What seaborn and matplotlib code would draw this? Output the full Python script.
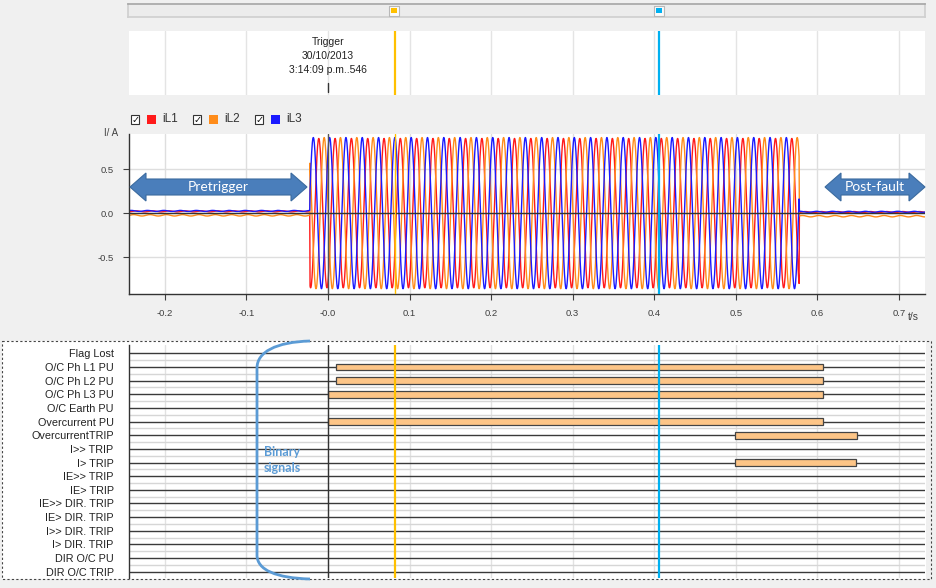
import numpy as np
import pandas as pd
import matplotlib
matplotlib.use("Agg")
import matplotlib.pyplot as plt
import matplotlib.transforms as mtransforms
from matplotlib.patches import Rectangle, Polygon, PathPatch
from matplotlib.path import Path
import seaborn as sns

# --- values ---
phase_names = ["iL1", "iL2", "iL3"]
fault_amp = [0.85, 0.86, 0.86]              # A, crest during the fault
first_peak = [-0.0113, -0.0047, -0.0180]    # s, first crest after inception
pre_level = [0.020, -0.025, 0.025]          # A, pre-fault level
post_level = [0.012, -0.035, 0.015]         # A, post-fault level
ripple_amp = [0.006, 0.008, 0.006]          # A, small ripple outside the fault
fault_on = -0.022
fault_off = 0.578
freq = 50.0

x_ticks = [-0.2, -0.1, 0.0, 0.1, 0.2, 0.3, 0.4, 0.5, 0.6, 0.7]
x_tick_labels = ["-0.2", "-0.1", "-0.0", "0.1", "0.2", "0.3", "0.4", "0.5", "0.6", "0.7"]
y_ticks = [-0.5, 0.0, 0.5]
y_tick_labels = ["-0.5", "0.0", "0.5"]

cursor_1 = 0.082
cursor_2 = 0.406

signal_names = ["Flag Lost", "O/C Ph L1 PU", "O/C Ph L2 PU", "O/C Ph L3 PU",
                "O/C Earth PU", "Overcurrent PU", "OvercurrentTRIP", "I>> TRIP",
                "I> TRIP", "IE>> TRIP", "IE> TRIP", "IE>> DIR. TRIP", "IE> DIR. TRIP",
                "I>> DIR. TRIP", "I> DIR. TRIP", "DIR O/C PU", "DIR O/C TRIP"]
event_signal = ["O/C Ph L1 PU", "O/C Ph L2 PU", "O/C Ph L3 PU", "Overcurrent PU",
                "OvercurrentTRIP", "I> TRIP"]
event_start = [0.010, 0.010, 0.000, 0.000, 0.499, 0.499]
event_end = [0.607, 0.607, 0.607, 0.607, 0.649, 0.648]

trigger_text = "Trigger\n30/10/2013\n3:14:09 p.m..546"

# --- build the waveform table ---
t = np.arange(-0.244, 0.7325, 0.0004)
rows = []
for k, name in enumerate(phase_names):
    fault = fault_amp[k] * np.cos(2 * np.pi * freq * (t - first_peak[k]))
    ripple = ripple_amp[k] * np.sin(2 * np.pi * freq * t + k)
    i = np.where(t < fault_on, pre_level[k] + ripple,
                 np.where(t > fault_off, post_level[k] + ripple, fault))
    rows.append(pd.DataFrame({"t": t, "i": i, "phase": name}))
waves = pd.concat(rows, ignore_index=True)

# --- figure ---
sns.set_theme(style="white")
plt.rcParams["font.family"] = ["Liberation Sans", "DejaVu Sans"]

W, H = 936, 588
fig = plt.figure(figsize=(W / 100, H / 100), dpi=100, facecolor="#f0f0f0")
px = mtransforms.Affine2D().scale(1 / W, -1 / H).translate(0, 1) + fig.transFigure


def px_rect(x0, y0, x1, y1):
    return [x0 / W, 1 - y1 / H, (x1 - x0) / W, (y1 - y0) / H]


xlim = (-0.244, 0.732)
colors = {"iL1": "#ff1a1a", "iL2": "#ff8c1a", "iL3": "#1a1aff"}
yellow = "#ffc000"
cyan = "#00b0f0"
tick_col = "#404040"

# binary panel frame (behind the axes)
fig.patches.append(Rectangle((2, 341), 924, 238, transform=px, facecolor="white",
                             edgecolor="none", zorder=-2))
fig.patches.append(Rectangle((2, 341), 929, 238, transform=px, facecolor="none",
                             edgecolor="#444444", lw=0.8, ls=(0, (2, 2)), zorder=-1))

# scroll bar
ax_s = fig.add_axes(px_rect(128, 4, 925, 17))
ax_s.set_facecolor("#ececec")
ax_s.set_xlim(xlim)
ax_s.set_ylim(0, 1)
ax_s.set_xticks([])
ax_s.set_yticks([])
for side, sp in ax_s.spines.items():
    sp.set_color("#a8a8a8" if side == "top" else "#d0d0d0")
ax_s.scatter([cursor_1, cursor_2], [0.5, 0.5], marker="s", s=60, color="#fafafa",
             edgecolor="#b8b8b8", lw=0.8, zorder=3)
ax_s.scatter([cursor_1, cursor_2], [0.5, 0.5], marker="s", s=16, color=[yellow, cyan],
             zorder=4, lw=0)

# timeline panel
ax_t = fig.add_axes(px_rect(129, 31, 925, 95))
ax_t.set_facecolor("white")
ax_t.set_xlim(xlim)
ax_t.set_ylim(0, 1)
ax_t.set_xticks([])
ax_t.set_yticks([])
for sp in ax_t.spines.values():
    sp.set_visible(False)
for x in x_ticks:
    ax_t.axvline(x, color="#e4e4e4", lw=1)
ax_t.axvline(cursor_1, color=yellow, lw=1.6)
ax_t.axvline(cursor_2, color=cyan, lw=1.6)
ax_t.plot([0, 0], [0.04, 0.19], color="#333333", lw=1)
ax_t.text(0, 0.9, trigger_text, ha="center", va="top", fontsize=7.5,
          color="#222222", linespacing=1.45)

# legend row
for k, name in enumerate(phase_names):
    x0 = 131 + 62 * k
    fig.patches.append(Rectangle((x0, 115), 8, 9, transform=px, facecolor="white",
                                 edgecolor="#333333", lw=0.8))
    fig.text(x0 + 4.5, 119.5, "\u2713", transform=px, ha="center", va="center",
             fontsize=7, family="DejaVu Sans", fontweight="bold", color="#111111")
    fig.patches.append(Rectangle((x0 + 16, 115), 9, 9, transform=px,
                                 facecolor=colors[name], edgecolor="none"))
    fig.text(x0 + 31, 119.5, name, transform=px, ha="left", va="center",
             fontsize=8.5, color="#333333")

# waveform axes
ax = fig.add_axes(px_rect(129, 134, 925, 294))
ax.set_facecolor("white")
sns.lineplot(data=waves, x="t", y="i", hue="phase", palette=colors, estimator=None,
             sort=False, lw=1.0, legend=False, ax=ax)
ax.set_xlim(xlim)
ax.set_ylim(-0.92, 0.9)
ax.set_xticks(x_ticks)
ax.set_xticklabels(x_tick_labels)
ax.set_yticks(y_ticks)
ax.set_yticklabels(y_tick_labels)
ax.set_xlabel("")
ax.set_ylabel("")
ax.grid(True, color="#dedede", lw=1)
ax.set_axisbelow(True)
ax.tick_params(axis="both", labelsize=6.8, colors=tick_col, length=4, width=0.8,
               direction="out", pad=7, left=True, bottom=True)
for side in ["top", "right"]:
    ax.spines[side].set_visible(False)
for side in ["left", "bottom"]:
    ax.spines[side].set_color("#333333")
    ax.spines[side].set_linewidth(1)
ax.axhline(0, color="#333333", lw=1, zorder=4)
ax.axvline(0, color="#555555", lw=1, zorder=4)
ax.axvline(cursor_1, color=yellow, lw=1, zorder=5)
ax.axvline(cursor_2, color=cyan, lw=1.6, zorder=5)
fig.text(111, 133, "I/ A", transform=px, ha="center", va="center", fontsize=7,
         color=tick_col)
fig.text(913, 317, "t/s", transform=px, ha="center", va="center", fontsize=7.5,
         color=tick_col)


# annotation arrows
def fat_arrow(x0, x1, yc, label):
    hl, bh, hh = 16, 8, 14
    pts = [(x0, yc), (x0 + hl, yc - hh), (x0 + hl, yc - bh), (x1 - hl, yc - bh),
           (x1 - hl, yc - hh), (x1, yc), (x1 - hl, yc + hh), (x1 - hl, yc + bh),
           (x0 + hl, yc + bh), (x0 + hl, yc + hh)]
    fig.patches.append(Polygon(pts, closed=True, transform=px, facecolor="#4a7ebb",
                               edgecolor="#3b6b9f", lw=0.8, zorder=6))
    fig.text((x0 + x1) / 2, yc, label, transform=px, ha="center", va="center",
             fontsize=10, family="Lato", color="white", zorder=7)


fat_arrow(130, 307, 187, "Pretrigger")
fat_arrow(825, 925, 187, "Post-fault")

# binary signals axes
ax_b = fig.add_axes(px_rect(129, 345, 925, 578))
ax_b.set_facecolor("white")
n = len(signal_names)
ax_b.set_xlim(xlim)
ax_b.set_ylim(n - 1 + 0.46, -0.61)
ax_b.set_yticks(range(n))
ax_b.set_yticklabels(signal_names)
ax_b.set_xticks([])
ax_b.tick_params(axis="y", length=0, labelsize=7.8, pad=11, colors="#222222")
for side in ["top", "right", "bottom"]:
    ax_b.spines[side].set_visible(False)
ax_b.spines["left"].set_color("#333333")
ax_b.spines["left"].set_linewidth(1)
for x in x_ticks:
    ax_b.axvline(x, color="#e2e2e2", lw=1, zorder=0)
ax_b.hlines([r + 0.5 for r in range(n - 1)], xlim[0], xlim[1], color="#d6d6d6", lw=1,
            zorder=1)
ax_b.hlines(range(n), xlim[0], xlim[1], color="#3a3a3a", lw=1, zorder=2)
rows_idx = [signal_names.index(s) for s in event_signal]
ax_b.barh(rows_idx, np.array(event_end) - np.array(event_start), left=event_start,
          height=0.5, color="#fdc587", edgecolor="#444444", lw=0.9, zorder=3)
ax_b.axvline(0, color="#333333", lw=1, zorder=4)
ax_b.axvline(cursor_1, color=yellow, lw=1.6, zorder=5)
ax_b.axvline(cursor_2, color=cyan, lw=1.6, zorder=5)

# "Binary signals" brace
brace = Path([(310, 341), (276, 342), (257, 352), (257, 368), (257, 555),
              (257, 570), (276, 578), (310, 579)],
             [Path.MOVETO, Path.CURVE4, Path.CURVE4, Path.CURVE4, Path.LINETO,
              Path.CURVE4, Path.CURVE4, Path.CURVE4])
fig.patches.append(PathPatch(brace, transform=px, facecolor="none", edgecolor="#5b9bd5",
                             lw=2, zorder=8))
fig.text(264, 460, "Binary\nsignals", transform=px, ha="left", va="center",
         fontsize=9, family="Lato", fontweight="bold", color="#5b9bd5",
         linespacing=1.3, zorder=8)

fig.savefig("out.png", dpi=100, facecolor=fig.get_facecolor())
